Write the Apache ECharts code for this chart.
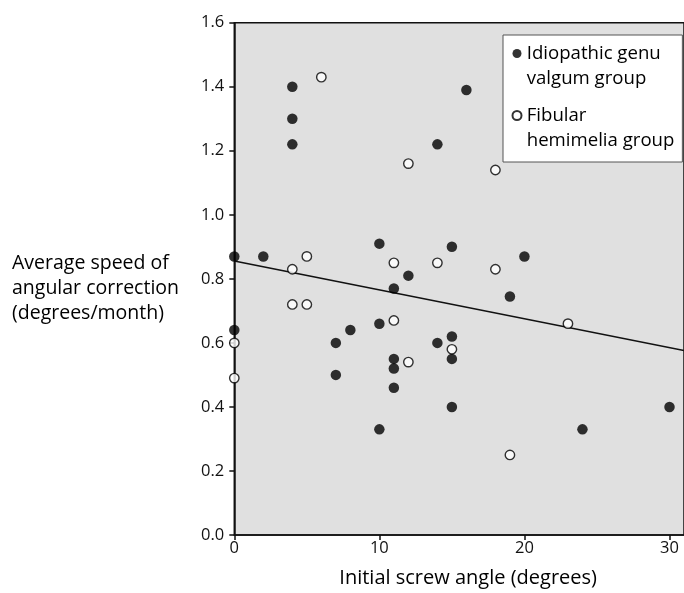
<!DOCTYPE html>
<html><head><meta charset="utf-8">
<script src="https://cdn.jsdelivr.net/npm/echarts@6/dist/echarts.min.js"></script>
<style>html,body{margin:0;padding:0;background:#fff}#c{width:684px;height:593px}</style>
</head><body><div id="c"></div>
<script>
// Idiopathic genu valgum group (filled circles)
const idiopathicX = [0, 0, 2, 4, 4, 4, 7, 7, 8, 10, 10, 10, 11, 11, 11, 11, 12, 14, 14, 15, 15, 15, 15, 16, 19, 20, 24, 30];
const idiopathicY = [0.87, 0.64, 0.87, 1.40, 1.30, 1.22, 0.60, 0.50, 0.64, 0.91, 0.66, 0.33, 0.77, 0.55, 0.52, 0.46, 0.81, 1.22, 0.60, 0.90, 0.62, 0.55, 0.40, 1.39, 0.745, 0.87, 0.33, 0.40];
// Fibular hemimelia group (open circles)
const fibularX = [0, 0, 4, 4, 5, 5, 6, 11, 11, 12, 12, 14, 15, 18, 18, 19, 23];
const fibularY = [0.60, 0.49, 0.83, 0.72, 0.87, 0.72, 1.43, 0.85, 0.67, 1.16, 0.54, 0.85, 0.58, 1.14, 0.83, 0.25, 0.66];
// Regression line end points
const fitX = [0, 31];
const fitY = [0.856, 0.576];
// Tick labels
const xTickLabels = ['0', '10', '20', '30'];
const yTickLabels = ['0.0', '0.2', '0.4', '0.6', '0.8', '1.0', '1.2', '1.4', '1.6'];
const seriesNames = ['Idiopathic genu valgum group', 'Fibular hemimelia group'];
const legendLabels = ['Idiopathic genu\nvalgum group', 'Fibular\nhemimelia group'];
const xTitle = 'Initial screw angle (degrees)';
const yTitle = 'Average speed of\nangular correction\n(degrees/month)';

const FONT = '"Open Sans", "DejaVu Sans", sans-serif';
const zip = (xs, ys) => xs.map((x, i) => [x, ys[i]]);
const iconPath = 'path://M0,0M0,50M0.5,12.5A4.5,4.5,0,1,0,9.5,12.5A4.5,4.5,0,1,0,0.5,12.5Z';

const chart = echarts.init(document.getElementById('c'), null, {renderer: 'canvas'});
chart.setOption({
  animation: false,
  backgroundColor: '#fff',
  title: {
    text: yTitle, left: 12, top: 250.5, padding: 0,
    textStyle: {fontFamily: FONT, fontSize: 19.5, fontWeight: 'normal', lineHeight: 25, color: '#000'}
  },
  grid: {
    left: 234.3, right: 0, top: 22.7, bottom: 54.7,
    show: true, backgroundColor: '#e0e0e0', borderColor: '#111', borderWidth: 1.5
  },
  legend: {
    orient: 'vertical',
    left: 503, top: 35,
    padding: [6, 8, 8, 8],
    itemGap: 11,
    itemWidth: 10, itemHeight: 50,
    backgroundColor: '#fff', borderColor: '#555', borderWidth: 1,
    data: seriesNames.map(n => ({name: n, icon: iconPath})),
    formatter: n => legendLabels[seriesNames.indexOf(n)],
    textStyle: {fontFamily: FONT, fontSize: 18.6, lineHeight: 25, color: '#000'}
  },
  xAxis: {
    type: 'value', min: 0, max: 31, interval: 10,
    name: xTitle, nameLocation: 'middle', nameGap: 33,
    nameTextStyle: {fontFamily: FONT, fontSize: 20, color: '#000', padding: [0, 0, 0, 18]},
    axisLine: {show: true, onZero: false, lineStyle: {color: '#111', width: 1.5}},
    axisTick: {show: true, length: 5, lineStyle: {color: '#111', width: 1.5}},
    axisLabel: {fontFamily: FONT, fontSize: 16.5, color: '#111', margin: 5,
      showMaxLabel: false,
      formatter: v => { const i = xTickLabels.indexOf(String(Math.round(v))); return (Math.abs(v - Math.round(v)) < 1e-6 && i >= 0) ? xTickLabels[i] : ''; }},
    splitLine: {show: false}
  },
  yAxis: {
    type: 'value', min: 0, max: 1.6, interval: 0.2,
    axisLine: {show: true, onZero: false, lineStyle: {color: '#111', width: 1.5}},
    axisTick: {show: true, length: 5, lineStyle: {color: '#111', width: 1.5}},
    axisLabel: {fontFamily: FONT, fontSize: 16.5, color: '#111', margin: 10,
      formatter: v => yTickLabels[Math.round(v / 0.2)] || ''},
    splitLine: {show: false}
  },
  series: [
    {
      type: 'line', name: 'fit', data: zip(fitX, fitY), showSymbol: false, silent: true,
      lineStyle: {color: '#111', width: 1.6}, z: 1
    },
    {
      type: 'scatter', name: seriesNames[0], data: zip(idiopathicX, idiopathicY),
      symbol: 'circle', symbolSize: 10.5, clip: false,
      itemStyle: {color: '#000', borderColor: '#000', borderWidth: 0}, z: 3
    },
    {
      type: 'scatter', name: seriesNames[1], data: zip(fibularX, fibularY),
      symbol: 'circle', symbolSize: 9.4, clip: false,
      itemStyle: {color: '#fff', borderColor: '#000', borderWidth: 1.4}, z: 4
    }
  ]
});
</script>
</body></html>
